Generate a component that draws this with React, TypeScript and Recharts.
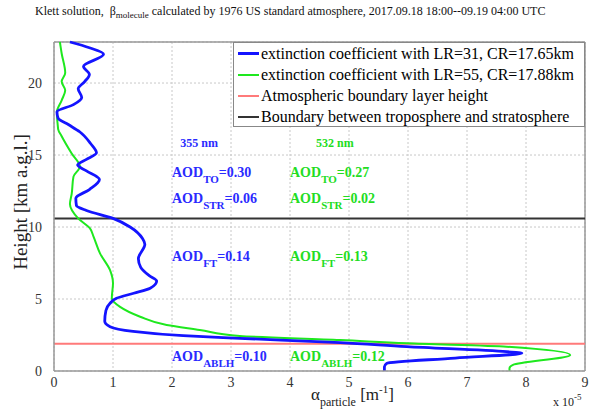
import {
  ComposedChart,
  Line,
  XAxis,
  YAxis,
  CartesianGrid,
  ReferenceLine,
  ReferenceDot,
  Legend,
} from "recharts";

const SERIF = "'Liberation Serif', 'Times New Roman', serif";

// profile at 355 nm (LR=31), alpha in 1e-5 m^-1, height in km
const BLUE_ALPHA = [
  0.27, 0.6, 0.84, 0.5, 0.6, 0.52, 0.41, 0.47, 0.33, 0.05, 0.07, 0.25, 0.44,
  0.62, 0.72, 0.55, 0.4, 0.55, 0.77, 0.6, 0.37, 0.38, 0.55, 1.0, 1.29, 1.5,
  1.54, 1.43, 1.47, 1.62, 1.74, 1.63, 1.35, 1.06, 0.95, 0.88, 0.86, 0.95,
  1.34, 2.19, 3.15, 4.85, 5.98, 7.67, 7.93, 6.8, 5.64, 5.6, 5.6,
];
const BLUE_HEIGHT = [
  22.85, 22.45, 22.0, 21.15, 20.6, 20.1, 19.6, 19.0, 18.5, 18.0, 17.55, 17.1,
  16.6, 15.8, 15.15, 14.7, 14.3, 13.9, 13.3, 12.6, 12.0, 11.5, 11.15, 10.6,
  10.0, 9.2, 8.8, 7.8, 7.2, 6.6, 6.25, 5.75, 5.4, 5.05, 4.7, 4.2, 3.45, 3.08,
  2.75, 2.45, 2.27, 1.97, 1.69, 1.34, 1.24, 0.9, 0.53, 0.3, 0.0,
];

// profile at 532 nm (LR=55)
const GREEN_ALPHA = [
  0.1, 0.13, 0.19, 0.13, 0.19, 0.13, 0.05, 0.07, 0.13, 0.3, 0.44, 0.33, 0.3,
  0.27, 0.41, 0.61, 0.67, 0.78, 0.95, 1.0, 0.98, 1.12, 1.46, 1.91, 2.47, 3.15,
  4.85, 5.98, 7.67, 8.75, 7.78, 7.72, 7.72,
];
const GREEN_HEIGHT = [
  22.85, 22.05, 20.7, 20.1, 19.5, 18.8, 18.0, 16.8, 16.3, 15.1, 14.2, 13.5,
  12.3, 11.6, 10.6, 9.9, 9.33, 8.17, 7.0, 6.1, 5.05, 4.45, 3.77, 3.19, 2.85,
  2.43, 2.15, 1.92, 1.69, 1.11, 0.42, 0.19, 0.0,
];

const X_TICKS = [0, 1, 2, 3, 4, 5, 6, 7, 8, 9];
const Y_TICKS = [0, 5, 10, 15, 20];
const Y_MAX = 22.85;

const ABLH_KM = 1.9;
const TROPOPAUSE_KM = 10.6;

const LEGEND_LABELS = [
  "extinction coefficient with LR=31, CR=17.65km",
  "extinction coefficient with LR=55, CR=17.88km",
  "Atmospheric boundary layer height",
  "Boundary between troposphere and stratosphere",
];

const AOD_NAMES = ["TO", "STR", "FT", "ABLH"];
const AOD_355 = [0.3, 0.06, 0.14, 0.1];
const AOD_532 = [0.27, 0.02, 0.13, 0.12];
// label anchors (height of text baseline, km)
const AOD_LABEL_H = [13.49, 11.65, 7.66, 0.69];

const BLUE = "#1414ff";
const GREEN = "#1ee81e";
const BLUE_TEXT = "#2a2aff";
const GREEN_TEXT = "#22dd22";
const RED = "#ff7a7a";
const BLACK = "#333333";
const LEGEND_COLORS = [BLUE, GREEN, RED, BLACK];
const LEGEND_WIDTHS = [3, 2, 2, 2];

const blueData = BLUE_ALPHA.map((a, i) => ({ a, h: BLUE_HEIGHT[i] }));
const greenData = GREEN_ALPHA.map((a, i) => ({ a, h: GREEN_HEIGHT[i] }));

function AodLabel(props: any) {
  const { viewBox, name, value, color } = props;
  return (
    <text
      x={viewBox.x}
      y={viewBox.y}
      fill={color}
      fontFamily={SERIF}
      fontWeight="bold"
      fontSize={14}
    >
      AOD
      <tspan fontSize={11} dy={6}>
        {name}
      </tspan>
      <tspan dy={-6}>={value.toFixed(2)}</tspan>
    </text>
  );
}

function WaveLabel(props: any) {
  const { viewBox, text, color } = props;
  return (
    <text
      x={viewBox.x}
      y={viewBox.y}
      fill={color}
      fontFamily={SERIF}
      fontWeight="bold"
      fontSize={12}
    >
      {text}
    </text>
  );
}

function XTick(props: any) {
  const { x, y, payload } = props;
  return (
    <text x={x} y={y + 6} textAnchor="middle" fontFamily={SERIF} fontSize={14} fill="#333">
      {payload.value}
    </text>
  );
}

function YTick(props: any) {
  const { x, y, payload } = props;
  return (
    <text x={x} y={y + 5} textAnchor="end" fontFamily={SERIF} fontSize={14} fill="#333">
      {payload.value}
    </text>
  );
}

function XLabel(props: any) {
  const { viewBox } = props;
  const x0 = viewBox.x;
  const y0 = viewBox.y;
  return (
    <g fontFamily={SERIF} fill="#222">
      <text x={x0 + 257} y={y0 + 29} fontSize={17}>
        α<tspan fontSize={12} dy={6}>particle</tspan>
        <tspan dy={-6}> [m</tspan>
        <tspan fontSize={11} dy={-7}>-1</tspan>
        <tspan dy={7}>]</tspan>
      </text>
      <text x={x0 + 499} y={y0 + 35} fontSize={12}>
        x 10<tspan fontSize={9} dy={-6}>-5</tspan>
      </text>
    </g>
  );
}

function YLabel() {
  return (
    <text
      x={20}
      y={202}
      transform="rotate(-90 20 202)"
      textAnchor="middle"
      dominantBaseline="central"
      fontFamily={SERIF}
      fontSize={19}
      fill="#222"
    >
      Height [km a.g.l.]
    </text>
  );
}

function LegendBox() {
  return (
    <div
      style={{
        width: 352,
        height: 85,
        boxSizing: "border-box",
        border: "1px solid #888",
        background: "#fff",
        fontFamily: SERIF,
        fontSize: 16,
        color: "#000",
        paddingTop: 0,
      }}
    >
      {LEGEND_LABELS.map((label, i) => (
        <div
          key={label}
          style={{ display: "flex", alignItems: "center", height: 21, whiteSpace: "nowrap" }}
        >
          <span
            style={{
              display: "inline-block",
              width: 21,
              height: LEGEND_WIDTHS[i],
              background: LEGEND_COLORS[i],
              marginLeft: 4,
              marginRight: 2,
            }}
          />
          <span>{label}</span>
        </div>
      ))}
    </div>
  );
}

export default function App() {
  return (
    <div
      style={{
        position: "absolute",
        left: 0,
        top: 0,
        width: 599,
        height: 410,
        background: "#fff",
        fontFamily: SERIF,
      }}
    >
      <div
        style={{
          position: "absolute",
          left: 35,
          top: 4,
          fontSize: 12,
          whiteSpace: "pre",
          color: "#111",
          lineHeight: "14px",
        }}
      >
        Klett solution,  β<sub style={{ fontSize: 9 }}>molecule</sub> calculated by 1976 US
        standard atmosphere, 2017.09.18 18:00--09.19 04:00 UTC
      </div>
      <ComposedChart
        width={599}
        height={410}
        layout="vertical"
        margin={{ top: 42, right: 14, bottom: 0, left: 0 }}
        style={{ position: "absolute", left: 0, top: 0 }}
      >
        <CartesianGrid stroke="#c8c8c8" strokeDasharray="2 2" />
        <XAxis
          type="number"
          dataKey="a"
          domain={[0, 9]}
          ticks={X_TICKS}
          height={39}
          tickLine={false}
          axisLine={{ stroke: "#999", strokeWidth: 1.5 }}
          tick={<XTick />}
          tickMargin={4}
          label={<XLabel />}
        />
        <YAxis
          type="number"
          dataKey="h"
          domain={[0, Y_MAX]}
          ticks={Y_TICKS}
          reversed
          width={54}
          tickLine={false}
          axisLine={{ stroke: "#999", strokeWidth: 1.5 }}
          tick={<YTick />}
          tickMargin={6}
          label={<YLabel />}
        />
        <ReferenceLine x={9} stroke="#999" strokeWidth={1.5} />
        <ReferenceLine y={Y_MAX} stroke="#999" strokeWidth={1.5} />
        <ReferenceLine y={ABLH_KM} stroke={RED} strokeWidth={2} />
        <ReferenceLine y={TROPOPAUSE_KM} stroke={BLACK} strokeWidth={2} />
        <Line
          data={greenData}
          dataKey="a"
          type="monotone"
          stroke={GREEN}
          strokeWidth={2}
          dot={false}
          isAnimationActive={false}
        />
        <Line
          data={blueData}
          dataKey="a"
          type="monotone"
          stroke={BLUE}
          strokeWidth={2.8}
          dot={false}
          isAnimationActive={false}
        />
        <ReferenceDot
          x={2.14}
          y={15.53}
          r={0}
          fill="none"
          stroke="none"
          label={<WaveLabel text="355 nm" color={BLUE_TEXT} />}
        />
        <ReferenceDot
          x={4.44}
          y={15.53}
          r={0}
          fill="none"
          stroke="none"
          label={<WaveLabel text="532 nm" color={GREEN_TEXT} />}
        />
        {AOD_NAMES.map((name, i) => (
          <ReferenceDot
            key={"b" + name}
            x={2.0}
            y={AOD_LABEL_H[i]}
            r={0}
            fill="none"
            stroke="none"
            label={<AodLabel name={name} value={AOD_355[i]} color={BLUE_TEXT} />}
          />
        ))}
        {AOD_NAMES.map((name, i) => (
          <ReferenceDot
            key={"g" + name}
            x={4.0}
            y={AOD_LABEL_H[i]}
            r={0}
            fill="none"
            stroke="none"
            label={<AodLabel name={name} value={AOD_532[i]} color={GREEN_TEXT} />}
          />
        ))}
        <Legend
          layout="horizontal"
          verticalAlign="middle"
          align="center"
          content={<LegendBox />}
          wrapperStyle={{ left: 233, top: 42, width: 352, height: 85 }}
        />
      </ComposedChart>
    </div>
  );
}
